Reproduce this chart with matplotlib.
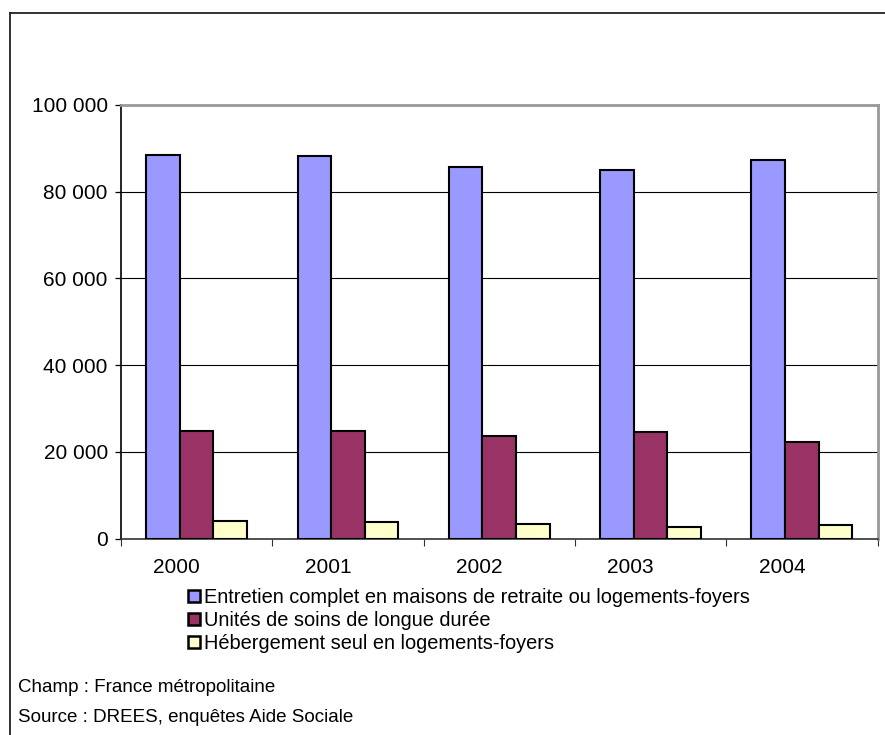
import matplotlib
matplotlib.use("Agg")
import matplotlib.pyplot as plt
import matplotlib.transforms as mtransforms
from matplotlib.lines import Line2D
from matplotlib.ticker import FuncFormatter
import numpy as np

plt.rcParams['font.family'] = ['Liberation Sans', 'DejaVu Sans']

years = ['2000', '2001', '2002', '2003', '2004']
series_names = [
    "Entretien complet en maisons de retraite ou logements-foyers",
    "Unités de soins de longue durée",
    "Hébergement seul en logements-foyers",
]
entretien_complet = [88500, 88300, 85700, 85000, 87300]
soins_longue_duree = [24700, 24700, 23700, 24500, 22300]
hebergement_seul = [4100, 3850, 3400, 2700, 3100]
series_values = [entretien_complet, soins_longue_duree, hebergement_seul]
colors = ['#9999FF', '#993366', '#FFFFCC']

y_ticks = [0, 20000, 40000, 60000, 80000, 100000]
notes = ["Champ : France métropolitaine",
         "Source : DREES, enquêtes Aide Sociale"]

W, H = 885, 735
fig = plt.figure(figsize=(W / 100, H / 100), dpi=100)

# outer frame (top and left edges)
fig.add_artist(Line2D([10 / W, 1.0], [1 - 13 / H, 1 - 13 / H],
                      transform=fig.transFigure, color='#222222', lw=1.3))
fig.add_artist(Line2D([10 / W, 10 / W], [0, 1 - 13 / H],
                      transform=fig.transFigure, color='#222222', lw=1.3))

left, right, top, bottom = 121, 877.5, 105, 538.5
ax = fig.add_axes([left / W, 1 - bottom / H, (right - left) / W, (bottom - top) / H])

x = np.arange(len(years))
w = 1 / 4.5
handles = []
for k, (vals, col) in enumerate(zip(series_values, colors)):
    b = ax.bar(x + (k - 1) * w, vals, width=w, color=col, edgecolor='black',
               linewidth=1.5, zorder=3, label=series_names[k])
    handles.append(b)

ax.set_xlim(-0.5, len(years) - 0.5)
ax.set_ylim(0, 100000)
ax.set_yticks(y_ticks)
ax.yaxis.set_major_formatter(FuncFormatter(lambda v, p: f"{int(v):,}".replace(",", " ")))
ax.yaxis.grid(True, color='black', lw=0.8, zorder=1)
ax.set_axisbelow(True)

ax.set_xticks(x)
ax.set_xticklabels(years)
ax.set_xticks(np.arange(len(years) + 1) - 0.5, minor=True)
ax.tick_params(axis='x', which='major', length=0, pad=14, labelsize=15)
ax.tick_params(axis='x', which='minor', length=5, width=0.8, direction='out', color='#333333')
ax.tick_params(axis='y', length=4.5, width=0.9, direction='out', pad=5, labelsize=15)
offset = mtransforms.ScaledTranslation(-20 / 100, 0, fig.dpi_scale_trans)
for lab in ax.get_xticklabels():
    lab.set_transform(lab.get_transform() + offset)

ax.spines['left'].set_color('black')
ax.spines['left'].set_linewidth(1.2)
ax.spines['bottom'].set_color('#333333')
ax.spines['bottom'].set_linewidth(1.2)
ax.spines['top'].set_color('#999999')
ax.spines['top'].set_linewidth(2)
ax.spines['right'].set_color('#999999')
ax.spines['right'].set_linewidth(2)

leg = fig.legend(handles=handles, labels=series_names, loc='upper left',
                 bbox_to_anchor=(188 / W, 1 - 588 / H), frameon=False, fontsize=14.4,
                 handlelength=0.6, handleheight=0.6, handletextpad=0.2,
                 labelspacing=0.2, borderpad=0, borderaxespad=0)
for p in leg.get_patches():
    p.set_linewidth(1.8)

fig.text(18 / W, 1 - 688 / H, notes[0], fontsize=13.5, va='center', ha='left')
fig.text(18 / W, 1 - 717 / H, notes[1], fontsize=13.5, va='center', ha='left')

fig.savefig('out.png', dpi=100)
